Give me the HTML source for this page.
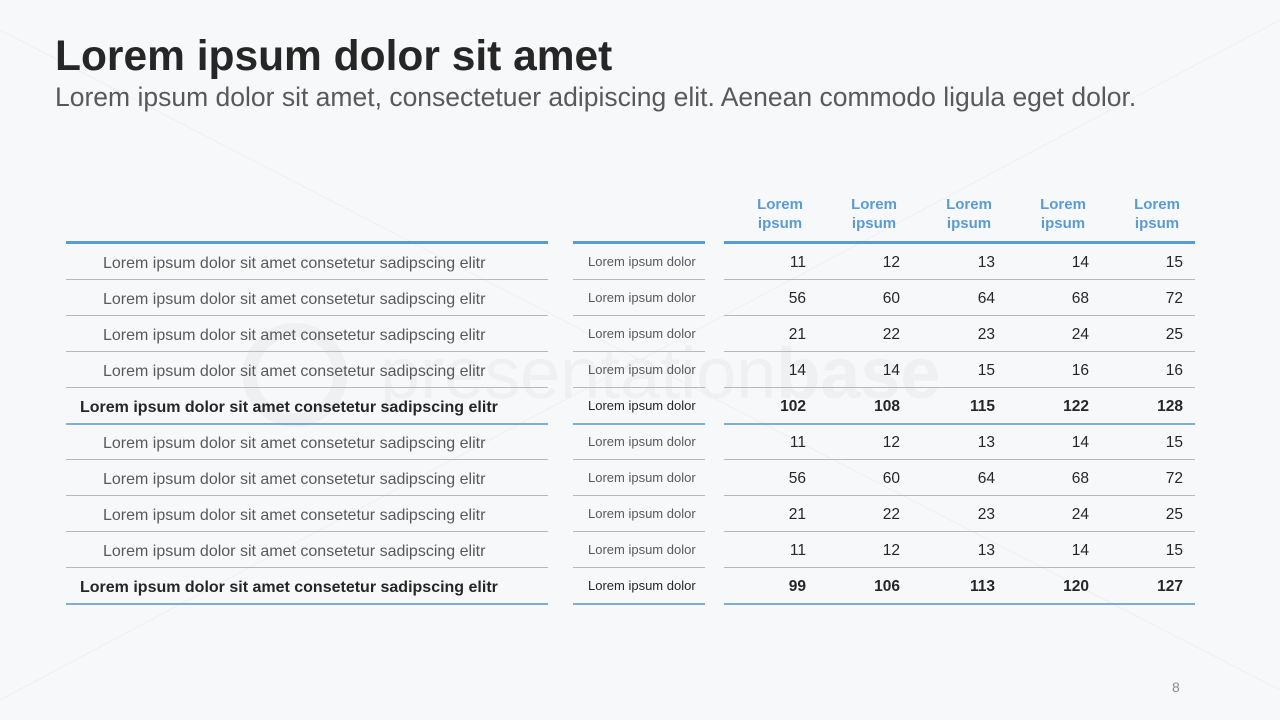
<!DOCTYPE html>
<html><head><meta charset="utf-8"><style>
body{margin:0;width:1280px;height:720px;background:#f7f8fa;font-family:"Liberation Sans",sans-serif;position:relative;overflow:hidden}
.a{position:absolute;white-space:nowrap}
h1{position:absolute;left:55px;top:33px;margin:0;font-size:42.5px;font-weight:bold;color:#262626}
.sub{left:55px;top:82px;font-size:26.5px;color:#595959}
.ln{position:absolute;height:1px;background:#b8b8b8}
.bl{position:absolute;height:2px;background:#7fadd9}
.th{position:absolute;height:3px;background:#5b9bd5;top:241px}
.hd{color:#5b9bd5;font-weight:bold;font-size:15px;text-align:center;line-height:19px;top:195px;width:60px}
.t{font-size:16px;color:#595959}
.b{font-weight:bold;color:#262626}
.m{font-size:13px;color:#595959}
.n{font-size:15.5px;color:#262626;text-align:right;width:60px}
</style></head><body>
<svg class="a" style="left:0;top:0" width="1280" height="720"><g stroke="#eef0f3" stroke-width="1" fill="none"><line x1="0" y1="30" x2="1280" y2="690"/><line x1="0" y1="700" x2="1280" y2="20"/></g>
<text x="380" y="398" font-family="Liberation Sans" font-size="72" fill="#eef0f2">presentation<tspan font-weight="bold">base</tspan></text>
<circle cx="295" cy="375" r="45" fill="none" stroke="#eef0f2" stroke-width="14"/></svg>
<h1>Lorem ipsum dolor sit amet</h1>
<div class="a sub">Lorem ipsum dolor sit amet, consectetuer adipiscing elit. Aenean commodo ligula eget dolor.</div>
<div class="th" style="left:66px;width:482px"></div>
<div class="th" style="left:573px;width:132px"></div>
<div class="th" style="left:724px;width:471px"></div>
<div id="c"></div>
<div class="a" style="left:1172px;top:679px;font-size:14px;color:#8c8c8c">8</div>
<script>
var c=document.getElementById('c'),h='';
var rx=[806,900,995,1089,1183];
rx.forEach(function(x){h+='<div class="a hd" style="left:'+(x-56)+'px">Lorem<br>ipsum</div>';});
var d=[[11,12,13,14,15],[56,60,64,68,72],[21,22,23,24,25],[14,14,15,16,16],[102,108,115,122,128],[11,12,13,14,15],[56,60,64,68,72],[21,22,23,24,25],[11,12,13,14,15],[99,106,113,120,127]];
d.forEach(function(r,i){
 var y=262+36*i, b=(i==4||i==9), t=y-9;
 h+='<div class="a t'+(b?' b':'')+'" style="left:'+(b?80:103)+'px;top:'+(t+2)+'px">Lorem ipsum dolor sit amet consetetur sadipscing elitr</div>';
 h+='<div class="a m" style="'+(b?'color:#262626;':'')+'left:588px;top:'+(t+1)+'px">Lorem ipsum dolor</div>';
 r.forEach(function(v,j){h+='<div class="a n'+(b?' b':'')+'" style="left:'+(rx[j]-60)+'px;top:'+(t+1)+'px">'+v+'</div>';});
 var ly=y+17, cls=b?'bl':'ln';
 [[66,482],[573,132],[724,471]].forEach(function(s){h+='<div class="'+cls+'" style="left:'+s[0]+'px;width:'+s[1]+'px;top:'+ly+'px"></div>';});
});
c.innerHTML=h;
</script>
</body></html>
